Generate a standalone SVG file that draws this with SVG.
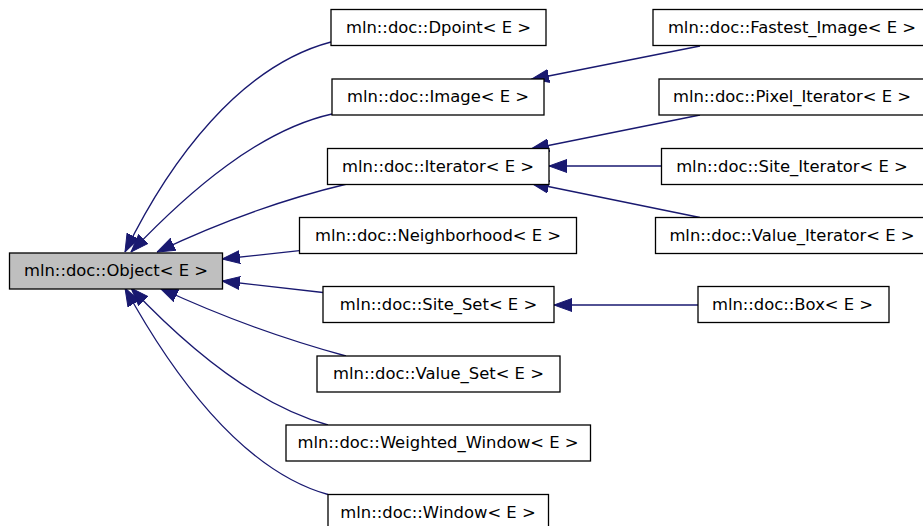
<svg xmlns="http://www.w3.org/2000/svg" width="923" height="526" viewBox="0 0 923 526">
<style>
.n rect{fill:#ffffff;stroke:#000000;stroke-width:1.3}
.n.root rect{fill:#bfbfbf}
.n text{font-family:"DejaVu Sans",sans-serif;font-size:16.4px;fill:#000000;text-anchor:middle}
.e path{fill:none;stroke:#191970;stroke-width:1.3;marker-end:url(#arr)}
</style>
<defs>
<marker id="arr" markerUnits="userSpaceOnUse" viewBox="0 -7 18 14" refX="18" refY="0" markerWidth="18" markerHeight="14" orient="auto">
<path d="M0,-6.5 L18,0 L0,6.5 Z" fill="#191970" stroke="#191970" stroke-width="1"/>
</marker>
</defs>
<rect width="923" height="526" fill="#ffffff"/>
<g id="edges" class="e">
<path d="M331,42 C240,66 170,160 125,252"/>
<path d="M332,114 C260,130 190,190 131,252"/>
<path d="M347,184 C280,200 220,222 157,252"/>
<path d="M299.5,250.7 L222,259"/>
<path d="M323,292.5 L222,281"/>
<path d="M346,356 C280,338 220,316 160,288"/>
<path d="M328,425 C255,405 185,345 131,288"/>
<path d="M328,494.5 C240,470 170,370 125,288"/>
<path d="M700,46 L531,79.5"/>
<path d="M700,115 L531,149"/>
<path d="M661.5,166 L549,166"/>
<path d="M700,217.5 L531,183"/>
<path d="M698,305 L554,305"/>
</g>
<g id="object" class="n root"><rect x="9.5" y="253" width="213" height="36"/><text x="116" y="276">mln::doc::Object&lt; E &gt;</text></g>
<g id="dpoint" class="n"><rect x="331" y="9.5" width="215" height="36"/><text x="438.5" y="32.5">mln::doc::Dpoint&lt; E &gt;</text></g>
<g id="image" class="n"><rect x="332" y="79" width="212" height="36"/><text x="438" y="102">mln::doc::Image&lt; E &gt;</text></g>
<g id="iterator" class="n"><rect x="327.5" y="148.5" width="221.5" height="36"/><text x="438" y="171.5">mln::doc::Iterator&lt; E &gt;</text></g>
<g id="neighborhood" class="n"><rect x="299.5" y="217.5" width="277" height="36"/><text x="438" y="240.5">mln::doc::Neighborhood&lt; E &gt;</text></g>
<g id="site_set" class="n"><rect x="323" y="286.5" width="231" height="36"/><text x="438.5" y="309.5">mln::doc::Site_Set&lt; E &gt;</text></g>
<g id="value_set" class="n"><rect x="317" y="356" width="243" height="36"/><text x="438.5" y="379">mln::doc::Value_Set&lt; E &gt;</text></g>
<g id="weighted_window" class="n"><rect x="286" y="425" width="304.5" height="36"/><text x="438" y="448">mln::doc::Weighted_Window&lt; E &gt;</text></g>
<g id="window" class="n"><rect x="328" y="494.5" width="220.5" height="36"/><text x="438" y="517.5">mln::doc::Window&lt; E &gt;</text></g>
<g id="fastest_image" class="n"><rect x="653" y="9.5" width="280" height="36"/><text x="792" y="32.5">mln::doc::Fastest_Image&lt; E &gt;</text></g>
<g id="pixel_iterator" class="n"><rect x="659" y="79" width="274" height="36"/><text x="792" y="102">mln::doc::Pixel_Iterator&lt; E &gt;</text></g>
<g id="site_iterator" class="n"><rect x="661.5" y="148.5" width="271.5" height="36"/><text x="792" y="171.5">mln::doc::Site_Iterator&lt; E &gt;</text></g>
<g id="value_iterator" class="n"><rect x="655.5" y="217.5" width="277.5" height="36"/><text x="792" y="240.5">mln::doc::Value_Iterator&lt; E &gt;</text></g>
<g id="box" class="n"><rect x="698" y="286.5" width="191" height="36"/><text x="792.5" y="309.5">mln::doc::Box&lt; E &gt;</text></g>
</svg>
